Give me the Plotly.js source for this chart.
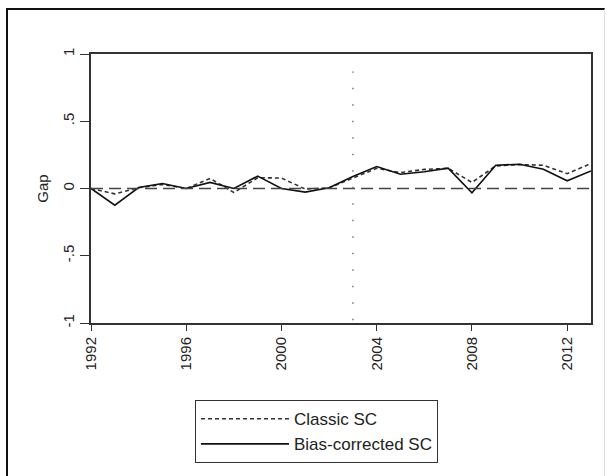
<!DOCTYPE html>
<html>
<head>
<meta charset="utf-8">
<script src="https://cdn.plot.ly/plotly-3.0.1.min.js"></script>
<style>
  html, body { margin: 0; padding: 0; background: #fff; }
  #wrap { position: relative; width: 607px; height: 476px; }
  #chart { position: absolute; left: 0; top: 0; width: 607px; height: 476px; }
  #frame { position: absolute; left: 6px; top: 8px; width: 596px; height: 480px;
           border-top: 2px solid #111; border-left: 2px solid #111; border-right: 1px solid #ddd;
           pointer-events: none; }
</style>
</head>
<body>
<div id="wrap">
  <div id="chart"></div>
  <div id="frame"></div>
</div>
<script>
const years = [1992,1993,1994,1995,1996,1997,1998,1999,2000,2001,2002,2003,2004,2005,2006,2007,2008,2009,2010,2011,2012,2013];
const classicSC = [0,-0.04,0.005,0.03,0,0.075,-0.03,0.08,0.078,-0.005,0.005,0.08,0.15,0.118,0.142,0.15,0.045,0.168,0.178,0.173,0.11,0.186];
const biasCorrectedSC = [0,-0.124,0.007,0.037,0,0.045,0,0.092,0,-0.027,0.005,0.089,0.163,0.106,0.124,0.151,-0.032,0.173,0.18,0.143,0.057,0.131];
const xTickVals = [1992,1996,2000,2004,2008,2012];
const yTickVals = [-1,-0.5,0,0.5,1];
const yTickText = ['-1','-.5','0','.5','1'];
const treatmentYear = 2003;
const seriesNames = ['Classic SC','Bias-corrected SC'];

const traces = [
  {x: years, y: classicSC, type: 'scatter', mode: 'lines', name: seriesNames[0],
   line: {color: '#333', width: 1.6, dash: '4px,3px'}},
  {x: years, y: biasCorrectedSC, type: 'scatter', mode: 'lines', name: seriesNames[1],
   line: {color: '#111', width: 1.6}}
];

const layout = {
  width: 607, height: 476,
  margin: {l: 91, r: 16, t: 54, b: 153},
  paper_bgcolor: '#fff', plot_bgcolor: '#fff',
  font: {family: '"Liberation Sans", Arial, sans-serif', color: '#222', size: 14},
  xaxis: {range: [1992, 2013], tickvals: xTickVals, tickangle: -90,
          showgrid: false, zeroline: false, showline: true, linecolor: '#333', linewidth: 2, mirror: true,
          ticks: 'outside', ticklen: 6, tickwidth: 1, tickcolor: '#333',
          tickfont: {size: 15, color: '#222'}},
  yaxis: {range: [-1, 1], tickvals: yTickVals, ticktext: yTickText, tickangle: -90,
          showgrid: false, zeroline: false, showline: true, linecolor: '#333', linewidth: 2, mirror: true,
          ticks: 'outside', ticklen: 9, tickwidth: 1, tickcolor: '#333',
          tickfont: {size: 15, color: '#222'},
          title: {text: 'Gap', font: {size: 15, color: '#222'}, standoff: 8}},
  shapes: [
    {type: 'line', xref: 'paper', x0: 0, x1: 1, yref: 'y', y0: 0, y1: 0,
     line: {color: '#444', width: 1.5, dash: '12px,6px'}},
    {type: 'line', xref: 'x', x0: treatmentYear, x1: treatmentYear, yref: 'y', y0: -0.98, y1: 0.87,
     line: {color: '#777', width: 1.5, dash: '1.5px,15px'}}
  ],
  showlegend: true,
  legend: {x: 0.208, y: -0.287, xanchor: 'left', yanchor: 'top',
           bordercolor: '#333', borderwidth: 1, bgcolor: '#fff',
           font: {size: 17, color: '#222'}, itemwidth: 88, tracegroupgap: 0}
};

Plotly.newPlot('chart', traces, layout, {displayModeBar: false, staticPlot: true});
</script>
</body>
</html>
